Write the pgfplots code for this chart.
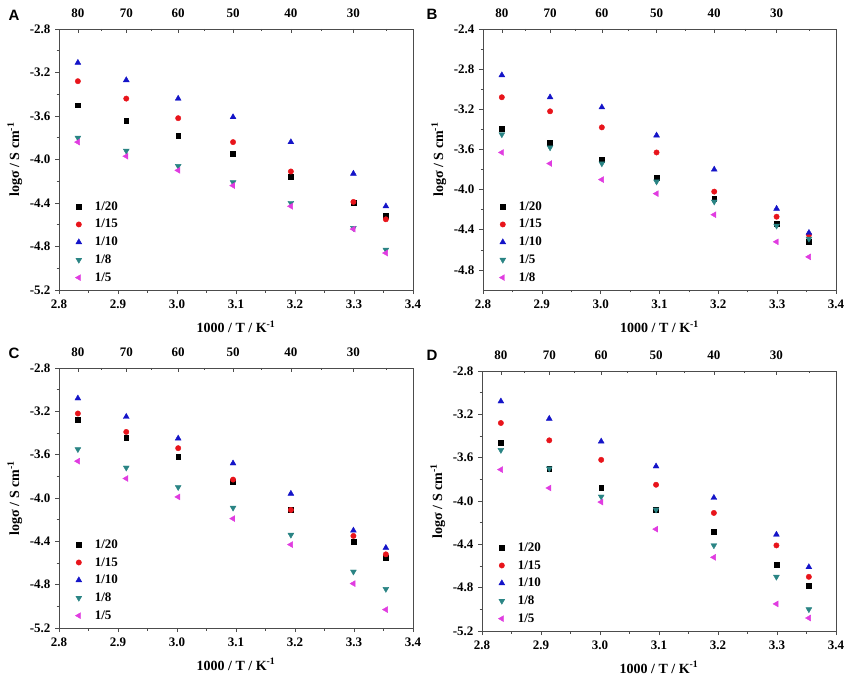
\documentclass[border=0pt]{standalone}
\usepackage{pgfplots}
\pgfplotsset{compat=1.18}
\usepackage{pgfplotstable}
\usepackage{fontspec}
\setmainfont{Liberation Serif}
\newfontfamily\panelfont{Liberation Sans}
\definecolor{cred}{HTML}{E8141B}
\definecolor{cblue}{HTML}{1414C8}
\definecolor{cteal}{HTML}{2A8484}
\definecolor{cmag}{HTML}{E03CE0}

\pgfplotstableread{
x c1 c2 c3 c4 c5
2.832 -3.50 -3.28 -3.11 -3.80 -3.84
2.914 -3.64 -3.44 -3.27 -3.92 -3.97
3.002 -3.78 -3.62 -3.44 -4.06 -4.10
3.095 -3.95 -3.84 -3.61 -4.21 -4.24
3.193 -4.16 -4.11 -3.84 -4.40 -4.43
3.299 -4.40 -4.39 -4.13 -4.63 -4.64
3.354 -4.52 -4.55 -4.43 -4.83 -4.86
}\dataA
\pgfplotstableread{
x c1 c2 c3 c4 c5
2.832 -3.39 -3.08 -2.86 -3.45 -3.63
2.914 -3.53 -3.22 -3.08 -3.58 -3.74
3.002 -3.70 -3.38 -3.18 -3.74 -3.90
3.095 -3.88 -3.63 -3.46 -3.92 -4.04
3.193 -4.09 -4.02 -3.80 -4.12 -4.25
3.299 -4.34 -4.27 -4.19 -4.36 -4.52
3.354 -4.52 -4.45 -4.43 -4.49 -4.67
}\dataB
\pgfplotstableread{
x c1 c2 c3 c4 c5
2.832 -3.28 -3.22 -3.08 -3.55 -3.66
2.914 -3.44 -3.39 -3.25 -3.72 -3.82
3.002 -3.62 -3.54 -3.45 -3.90 -3.99
3.095 -3.85 -3.83 -3.68 -4.09 -4.19
3.193 -4.11 -4.11 -3.96 -4.34 -4.43
3.299 -4.40 -4.35 -4.30 -4.68 -4.79
3.354 -4.55 -4.52 -4.46 -4.84 -5.03
}\dataC
\pgfplotstableread{
x c1 c2 c3 c4 c5
2.832 -3.46 -3.28 -3.08 -3.53 -3.71
2.914 -3.70 -3.44 -3.24 -3.70 -3.88
3.002 -3.88 -3.62 -3.45 -3.96 -4.01
3.095 -4.08 -3.85 -3.68 -4.08 -4.26
3.193 -4.28 -4.11 -3.97 -4.41 -4.52
3.299 -4.59 -4.41 -4.31 -4.70 -4.95
3.354 -4.78 -4.70 -4.61 -5.00 -5.08
}\dataD

\pgfplotsset{
  base/.style={scale only axis, width=354pt, height=261pt, xmin=2.8, xmax=3.4,
    axis line style={black!70, line width=0.8pt},
    every tick/.style={black!70, line width=0.6pt},
    major tick length=4pt, minor tick length=2.5pt,
    ticklabel style={font=\fontsize{13}{13}\selectfont\bfseries},
    /pgf/number format/assume math mode=true},
  main/.style={base,
    xtick={2.8,2.9,3.0,3.1,3.2,3.3,3.4},
    minor x tick num=1, minor y tick num=1,
    xtick pos=bottom, ytick pos=left, tick align=outside,
    xticklabel style={yshift=-2.5pt,/pgf/number format/.cd,fixed,fixed zerofill,precision=1},
    yticklabel style={xshift=-1pt,/pgf/number format/.cd,fixed,fixed zerofill,precision=1},
    xlabel={1000 / T / K\textsuperscript{-1}},
    ylabel={logσ / S cm\textsuperscript{-1}},
    label style={font=\fontsize{14}{14}\selectfont\bfseries},
    xlabel style={at={(axis description cs:0.5,-0.14)},anchor=center},
    ylabel style={at={(axis description cs:-0.125,0.5)},anchor=center},
    legend image code/.code={\path[draw=none,fill=none] (0pt,0pt) -- (20pt,0pt); \draw[##1] plot coordinates {(6pt,0pt)};},
    legend style={draw=none, fill=none, at={(axis description cs:0.03,0.012)}, anchor=south west,
      font=\fontsize{13}{13}\selectfont\bfseries, row sep=3.6pt, legend cell align=left}},
  topax/.style={base, axis x line*=top, axis y line=none, ymin=0, ymax=1,
    xtick={2.832,2.914,3.002,3.095,3.193,3.299},
    xticklabels={80,70,60,50,40,30},
    xticklabel style={yshift=8pt},
    minor xtick={2.872,2.957,3.047,3.143,3.245,3.354},
    tick align=inside},
  s1/.style={only marks, mark=square*, mark size=2.4pt, black, mark options={fill=black}},
  s2/.style={only marks, mark=*, mark size=2.7pt, cred, mark options={fill=cred}},
  s3/.style={only marks, mark=triangle*, mark size=3.4pt, cblue, mark options={fill=cblue}},
  s4/.style={only marks, mark=triangle*, mark size=3.4pt, cteal, mark options={fill=cteal, rotate=180}},
  s5/.style={only marks, mark=triangle*, mark size=3.4pt, cmag, mark options={fill=cmag, rotate=90}},
}

\begin{document}
\begin{tikzpicture}
\useasboundingbox (0pt,0pt) rectangle (851pt,678pt);

% Panel A
\begin{axis}[main, at={(59pt,388pt)}, anchor=south west, ymin=-5.2, ymax=-2.8,
  ytick={-5.2,-4.8,-4.4,-4.0,-3.6,-3.2,-2.8}]
\addplot[s1] table[x=x,y=c1]{\dataA}; \addlegendentry{1/20}
\addplot[s2] table[x=x,y=c2]{\dataA}; \addlegendentry{1/15}
\addplot[s3] table[x=x,y=c3]{\dataA}; \addlegendentry{1/10}
\addplot[s4] table[x=x,y=c4]{\dataA}; \addlegendentry{1/8}
\addplot[s5] table[x=x,y=c5]{\dataA}; \addlegendentry{1/5}
\end{axis}
\begin{axis}[topax, at={(59pt,388pt)}, anchor=south west]
\end{axis}

% Panel B
\begin{axis}[main, width=353pt, at={(483pt,388pt)}, anchor=south west, ymin=-5.0, ymax=-2.4,
  ytick={-4.8,-4.4,-4.0,-3.6,-3.2,-2.8,-2.4}]
\addplot[s1] table[x=x,y=c1]{\dataB}; \addlegendentry{1/20}
\addplot[s2] table[x=x,y=c2]{\dataB}; \addlegendentry{1/15}
\addplot[s3] table[x=x,y=c3]{\dataB}; \addlegendentry{1/10}
\addplot[s4] table[x=x,y=c4]{\dataB}; \addlegendentry{1/5}
\addplot[s5] table[x=x,y=c5]{\dataB}; \addlegendentry{1/8}
\end{axis}
\begin{axis}[topax, width=353pt, at={(483pt,388pt)}, anchor=south west]
\end{axis}

% Panel C
\begin{axis}[main, height=260pt, at={(59pt,50pt)}, anchor=south west, ymin=-5.2, ymax=-2.8,
  ytick={-5.2,-4.8,-4.4,-4.0,-3.6,-3.2,-2.8}]
\addplot[s1] table[x=x,y=c1]{\dataC}; \addlegendentry{1/20}
\addplot[s2] table[x=x,y=c2]{\dataC}; \addlegendentry{1/15}
\addplot[s3] table[x=x,y=c3]{\dataC}; \addlegendentry{1/10}
\addplot[s4] table[x=x,y=c4]{\dataC}; \addlegendentry{1/8}
\addplot[s5] table[x=x,y=c5]{\dataC}; \addlegendentry{1/5}
\end{axis}
\begin{axis}[topax, height=260pt, at={(59pt,50pt)}, anchor=south west]
\end{axis}

% Panel D
\begin{axis}[main, width=354pt, height=260pt, at={(482pt,47pt)}, anchor=south west, ymin=-5.2, ymax=-2.8,
  ytick={-5.2,-4.8,-4.4,-4.0,-3.6,-3.2,-2.8}]
\addplot[s1] table[x=x,y=c1]{\dataD}; \addlegendentry{1/20}
\addplot[s2] table[x=x,y=c2]{\dataD}; \addlegendentry{1/15}
\addplot[s3] table[x=x,y=c3]{\dataD}; \addlegendentry{1/10}
\addplot[s4] table[x=x,y=c4]{\dataD}; \addlegendentry{1/8}
\addplot[s5] table[x=x,y=c5]{\dataD}; \addlegendentry{1/5}
\end{axis}
\begin{axis}[topax, height=260pt, at={(482pt,47pt)}, anchor=south west]
\end{axis}

\node[font=\panelfont\bfseries\fontsize{15}{15}\selectfont] at (14pt,663pt) {A};
\node[font=\panelfont\bfseries\fontsize{15}{15}\selectfont] at (432pt,664pt) {B};
\node[font=\panelfont\bfseries\fontsize{15}{15}\selectfont] at (14pt,325pt) {C};
\node[font=\panelfont\bfseries\fontsize{15}{15}\selectfont] at (432pt,323pt) {D};
\end{tikzpicture}
\end{document}
